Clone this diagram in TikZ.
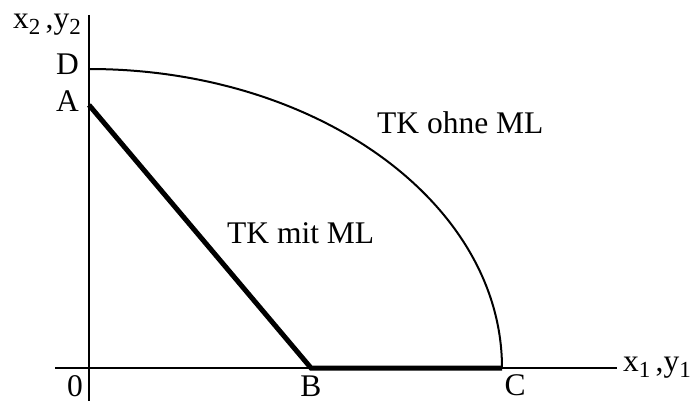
\documentclass[tikz,border=0pt]{standalone}
\usepackage{fontspec}
\setmainfont{Liberation Serif}
\begin{document}
\begin{tikzpicture}[x=1pt,y=-1pt,
  axis/.style={line width=2pt},
  curve/.style={line width=2pt},
  mlline/.style={line width=5pt,line join=miter},
  lbl/.style={inner sep=0pt,font=\fontsize{31.5}{38}\selectfont},
]
\useasboundingbox (0,0) rectangle (693,401);
\newcommand{\sbs}[1]{\raisebox{-6pt}{\fontsize{23}{27}\selectfont #1}}
% coordinates
\coordinate (O) at (89,368);
\coordinate (ytop) at (89,15);
\coordinate (ybot) at (89,401);
\coordinate (xleft) at (55,368);
\coordinate (xright) at (617,368);
\coordinate (D) at (89,69);
\coordinate (A) at (89,105);
\coordinate (B) at (311,368);
\coordinate (C) at (502,368);
% axes
\draw[axis] (ytop) -- (ybot);
\draw[axis] (xleft) -- (xright);
% TK ohne ML (quarter ellipse)
\draw[curve] (D) .. controls +(228.1,0) and +(0,-165.1) .. (C);
% TK mit ML
\draw[mlline] (A) -- (B) -- (C);
% labels
\node[lbl,anchor=base west] (ly) at (13,29) {x\sbs{2}\,,y\sbs{2}};
\node[lbl,anchor=base west] (lx) at (623,371) {x\sbs{1}\,,y\sbs{1}};
\node[lbl,anchor=base east] (lD) at (79,75) {D};
\node[lbl,anchor=base east] (lA) at (79,112) {A};
\node[lbl,anchor=base east] (l0) at (83,396) {0};
\node[lbl,anchor=base] (lB) at (311,396) {B};
\node[lbl,anchor=base] (lC) at (515,395) {C};
\node[lbl,anchor=base west] (tko) at (377,133) {TK ohne ML};
\node[lbl,anchor=base west] (tkm) at (227,243) {TK mit ML};
\end{tikzpicture}
\end{document}
